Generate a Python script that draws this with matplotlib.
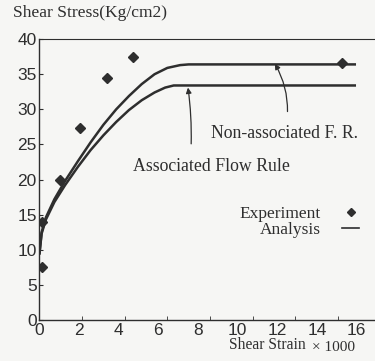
import numpy as np
import matplotlib.pyplot as plt
from matplotlib.lines import Line2D

# experiment points (shear strain x1000, shear stress kg/cm2)
exp_strain = [0.1, 0.1, 0.96, 1.9, 3.17, 4.39, 14.2]
exp_stress = [7.5, 13.9, 20.0, 27.3, 34.4, 37.4, 36.6]

# analysis curves
nonassoc_strain = [0.0, 0.1, 0.3, 0.7, 1.2, 1.8, 2.4, 3.0, 3.6, 4.2, 4.8, 5.4, 6.0, 6.6, 7.0, 14.8]
nonassoc_stress = [9.5, 12.5, 14.6, 17.2, 19.8, 22.6, 25.3, 27.8, 30.0, 31.9, 33.6, 35.0, 35.9, 36.3, 36.4, 36.4]
assoc_strain = [0.0, 0.1, 0.3, 0.7, 1.2, 1.8, 2.4, 3.0, 3.6, 4.2, 4.8, 5.4, 5.9, 6.3, 14.8]
assoc_stress = [9.5, 12.3, 14.3, 16.8, 19.2, 21.8, 24.2, 26.3, 28.2, 29.9, 31.3, 32.4, 33.1, 33.4, 33.4]

x_ticks = [0, 2, 4, 6, 8, 10, 12, 14, 16]
y_ticks = [0, 5, 10, 15, 20, 25, 30, 35, 40]

ink = '#2e2e2e'
bg = '#f6f6f4'

fig = plt.figure(figsize=(3.75, 3.61), dpi=100, facecolor=bg)
ax = fig.add_axes([0.1053, 0.1136, 0.8947, 0.778])
ax.set_facecolor(bg)

ax.plot(nonassoc_strain, nonassoc_stress, color=ink, lw=1.8, solid_joinstyle='round')
ax.plot(assoc_strain, assoc_stress, color=ink, lw=1.8, solid_joinstyle='round')
ax.plot(exp_strain, exp_stress, 'D', color=ink, ms=5.5, ls='none')

ax.set_xlim(0, 15.75)
ax.set_ylim(0, 40)

# tick marks at true positions, labels drift left like the scan
ax.set_xticks(x_ticks[1:-1], minor=True)
ax.set_xticks([v * 0.93 for v in x_ticks])
ax.set_xticklabels([str(v) for v in x_ticks], family='Liberation Sans', fontsize=12.5, color=ink)
ax.tick_params(axis='x', which='major', length=0, pad=2)
ax.tick_params(axis='x', which='minor', length=3, direction='in', color=ink)
ax.set_yticks(y_ticks)
ax.set_yticklabels([str(v) for v in y_ticks], family='Liberation Sans', fontsize=12.5, color=ink)
ax.tick_params(axis='y', length=3, direction='in', color=ink, pad=2)

for s in ['left', 'bottom', 'top']:
    ax.spines[s].set_color(ink)
    ax.spines[s].set_linewidth(1.0)
ax.spines['top'].set_linewidth(0.8)
ax.spines['right'].set_visible(False)

serif = 'Liberation Serif'
ax.annotate('Non-associated F. R.', xy=(11.05, 36.5), xytext=(11.5, 26.5),
            ha='center', va='center', family=serif, fontsize=12.8, color=ink,
            arrowprops=dict(arrowstyle='-|>', color=ink, lw=0.9, mutation_scale=8,
                            shrinkA=8, shrinkB=0, connectionstyle='arc3,rad=0.2'))
ax.annotate('Associated Flow Rule', xy=(6.97, 33.1), xytext=(8.05, 21.9),
            ha='center', va='center', family=serif, fontsize=12.8, color=ink,
            arrowprops=dict(arrowstyle='-|>', color=ink, lw=0.9, mutation_scale=8,
                            shrinkA=8, shrinkB=0, connectionstyle='arc3,rad=0.05',
                            relpos=(0.37, 1.0)))

handles = [Line2D([], [], marker='D', color=ink, ms=4, ls='none'),
           Line2D([], [], color=ink, lw=1.2)]
ax.legend(handles, ['Experiment', 'Analysis'], markerfirst=False, frameon=False,
          loc='center right', bbox_to_anchor=(1.0, 0.35), prop={'family': serif, 'size': 12.5},
          handlelength=1.0, handletextpad=1.2, labelspacing=0.0, labelcolor=ink)

fig.text(0.035, 0.963, 'Shear Stress(Kg/cm2)', family=serif, fontsize=12.6, color=ink, va='center')
fig.text(0.61, 0.045, 'Shear Strain', family=serif, fontsize=11.2, color=ink, va='center')
fig.text(0.832, 0.038, '\u00d7 1000', family=serif, fontsize=11, color=ink, va='center')

fig.savefig('out.png', dpi=100, facecolor=bg)
